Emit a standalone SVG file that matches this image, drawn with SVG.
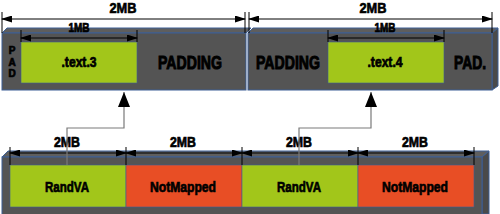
<svg xmlns="http://www.w3.org/2000/svg" width="500" height="214" viewBox="0 0 500 214">
<style>
.front{fill:#545454;stroke:#3d5f95;stroke-width:1}
.top{fill:#5e5e5e;stroke:#3d5f95;stroke-width:1}
.side{fill:#4a4a4a;stroke:#3d5f95;stroke-width:1}
.green{fill:#a2c61a;stroke:#3d5f95;stroke-width:0.6}
.red{fill:#e84e25;stroke:#3d5f95;stroke-width:0.6}
.t{font-family:"Liberation Sans",Arial,sans-serif;font-weight:bold;fill:#000;stroke:#000;stroke-width:0.7;text-anchor:middle}
.big{font-size:19px;stroke-width:1}
.dim{stroke:#000;stroke-width:1;fill:none}
.tick{stroke:#000;stroke-width:1}
.conn{stroke:#7a7a7a;stroke-width:1.2;fill:none}
</style>
<defs>
<marker id="dh" markerUnits="userSpaceOnUse" markerWidth="11" markerHeight="7" refX="10" refY="3.5" orient="auto-start-reverse">
<path d="M0,0 L11,3.5 L0,7 z" fill="#000"/>
</marker>
<marker id="ah" markerUnits="userSpaceOnUse" markerWidth="15" markerHeight="12" refX="15" refY="6" orient="auto">
<path d="M0,0 L15,6 L0,12 z" fill="#000"/>
</marker>
</defs>
<rect width="500" height="214" fill="#fff"/>

<g id="block-text3">
<polygon class="top" points="2,33 7,28 251,28 246,33"/>
<rect class="front" x="2" y="33" width="244" height="57"/>
<rect class="green" x="21" y="42" width="116" height="41"/>
<text class="t" x="12" y="54" font-size="10" stroke-width="0.3">P</text>
<text class="t" x="12" y="66" font-size="10" stroke-width="0.3">A</text>
<text class="t" x="12" y="77" font-size="10" stroke-width="0.3">D</text>
<text class="t" x="79" y="67" font-size="14" stroke-width="0.4" textLength="35" lengthAdjust="spacingAndGlyphs">.text.3</text>
<text class="t big" x="190" y="69" textLength="64" lengthAdjust="spacingAndGlyphs">PADDING</text>
</g>

<g id="block-text4">
<polygon class="top" points="248,33 253,28 498,28 492,33"/>
<polygon class="side" points="492,33 498,28 498,86 492,90"/>
<rect class="front" x="248" y="33" width="244" height="57"/>
<rect class="green" x="328" y="42" width="116" height="41"/>
<text class="t" x="385" y="67" font-size="14" stroke-width="0.4" textLength="35" lengthAdjust="spacingAndGlyphs">.text.4</text>
<text class="t big" x="288" y="69" textLength="64" lengthAdjust="spacingAndGlyphs">PADDING</text>
<text class="t big" x="470" y="69" textLength="32" lengthAdjust="spacingAndGlyphs">PAD.</text>
</g>

<g id="physical-bar">
<polygon class="top" points="2,157 8,151 489,151 482,157"/>
<polygon class="side" points="482,157 489,151 489,214 482,214"/>
<rect class="front" x="2" y="157" width="480" height="60"/>
<g id="cell-randva-1"><rect class="green" x="10" y="165" width="116" height="42"/>
<text class="t" x="67" y="192" font-size="15.5" textLength="44" lengthAdjust="spacingAndGlyphs">RandVA</text></g>
<g id="cell-notmapped-1"><rect class="red" x="126" y="165" width="116" height="42"/>
<text class="t" x="183" y="192" font-size="15.5" textLength="66" lengthAdjust="spacingAndGlyphs">NotMapped</text></g>
<g id="cell-randva-2"><rect class="green" x="242" y="165" width="116" height="42"/>
<text class="t" x="299" y="192" font-size="15.5" textLength="44" lengthAdjust="spacingAndGlyphs">RandVA</text></g>
<g id="cell-notmapped-2"><rect class="red" x="358" y="165" width="116" height="42"/>
<text class="t" x="415" y="192" font-size="15.5" textLength="66" lengthAdjust="spacingAndGlyphs">NotMapped</text></g>
</g>

<g id="dimensions">
<line class="tick" x1="2" y1="12" x2="2" y2="33"/>
<line class="tick" x1="245" y1="12" x2="245" y2="33"/>
<line class="tick" x1="249" y1="12" x2="249" y2="33"/>
<line class="tick" x1="492" y1="12" x2="492" y2="33"/>
<line class="dim" x1="2" y1="19" x2="245" y2="19" marker-start="url(#dh)" marker-end="url(#dh)"/>
<line class="dim" x1="249" y1="19" x2="492" y2="19" marker-start="url(#dh)" marker-end="url(#dh)"/>
<text class="t" x="123" y="13" font-size="15.5" textLength="27" lengthAdjust="spacingAndGlyphs">2MB</text>
<text class="t" x="373" y="13" font-size="15.5" textLength="27" lengthAdjust="spacingAndGlyphs">2MB</text>

<line class="tick" x1="21" y1="30" x2="21" y2="42"/>
<line class="tick" x1="137" y1="30" x2="137" y2="42"/>
<line class="tick" x1="328" y1="30" x2="328" y2="42"/>
<line class="tick" x1="444" y1="30" x2="444" y2="42"/>
<line class="dim" x1="21" y1="38" x2="137" y2="38" marker-start="url(#dh)" marker-end="url(#dh)"/>
<line class="dim" x1="328" y1="38" x2="444" y2="38" marker-start="url(#dh)" marker-end="url(#dh)"/>
<text class="t" x="79" y="31.5" font-size="12.5" stroke-width="0.5" textLength="21" lengthAdjust="spacingAndGlyphs">1MB</text>
<text class="t" x="385" y="31.5" font-size="12.5" stroke-width="0.5" textLength="21" lengthAdjust="spacingAndGlyphs">1MB</text>

<line class="tick" x1="10" y1="147" x2="10" y2="165"/>
<line class="tick" x1="126" y1="147" x2="126" y2="165"/>
<line class="tick" x1="242" y1="147" x2="242" y2="165"/>
<line class="tick" x1="358" y1="147" x2="358" y2="165"/>
<line class="tick" x1="474" y1="147" x2="474" y2="165"/>
<line class="dim" x1="10" y1="153" x2="126" y2="153" marker-start="url(#dh)" marker-end="url(#dh)"/>
<line class="dim" x1="126" y1="153" x2="242" y2="153" marker-start="url(#dh)" marker-end="url(#dh)"/>
<line class="dim" x1="242" y1="153" x2="358" y2="153" marker-start="url(#dh)" marker-end="url(#dh)"/>
<line class="dim" x1="358" y1="153" x2="474" y2="153" marker-start="url(#dh)" marker-end="url(#dh)"/>
<text class="t" x="67" y="147" font-size="14.5" textLength="26" lengthAdjust="spacingAndGlyphs">2MB</text>
<text class="t" x="183" y="147" font-size="14.5" textLength="26" lengthAdjust="spacingAndGlyphs">2MB</text>
<text class="t" x="299" y="147" font-size="14.5" textLength="26" lengthAdjust="spacingAndGlyphs">2MB</text>
<text class="t" x="415" y="147" font-size="14.5" textLength="26" lengthAdjust="spacingAndGlyphs">2MB</text>
</g>

<g id="connectors">
<path class="conn" d="M67,165 L67,128 L124,128 L124,92" marker-end="url(#ah)"/>
<path class="conn" d="M299,165 L299,128 L371,128 L371,92" marker-end="url(#ah)"/>
</g>
</svg>
